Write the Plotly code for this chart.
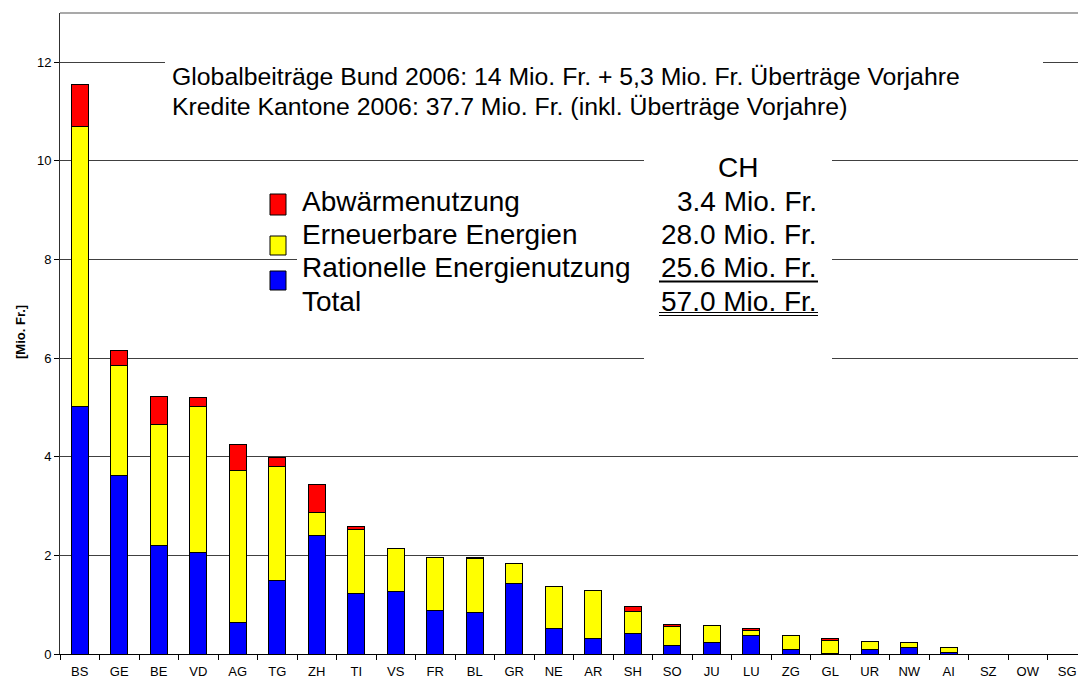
import plotly.graph_objects as go

cantons = ["BS","GE","BE","VD","AG","TG","ZH","TI","VS","FR","BL","GR","NE",
           "AR","SH","SO","JU","LU","ZG","GL","UR","NW","AI","SZ","OW","SG"]
rationelle = [5.02,3.62,2.20,2.06,0.63,1.49,2.41,1.22,1.26,0.89,0.84,1.44,0.52,
              0.32,0.41,0.17,0.23,0.37,0.09,0.02,0.10,0.13,0.04,0,0,0]
erneuerbar = [5.68,2.23,2.45,2.96,3.09,2.31,0.45,1.30,0.87,1.07,1.10,0.40,0.85,
              0.96,0.45,0.39,0.34,0.11,0.28,0.26,0.16,0.11,0.10,0,0,0]
abwaerme = [0.85,0.30,0.58,0.18,0.53,0.19,0.57,0.07,0,0,0.02,0,0,
            0,0.11,0.04,0,0.04,0,0.04,0,0,0,0,0,0]

series_names = ["Abwärmenutzung", "Erneuerbare Energien", "Rationelle Energienutzung"]
series_colors = ["#FF0000", "#FFFF00", "#0000FF"]
ch_totals = ["3.4 Mio. Fr.", "28.0 Mio. Fr.", "25.6 Mio. Fr.", "57.0 Mio. Fr."]
title_lines = ["Globalbeiträge Bund 2006: 14 Mio. Fr. + 5,3 Mio. Fr. Überträge Vorjahre",
               "Kredite Kantone 2006: 37.7 Mio. Fr. (inkl. Überträge Vorjahre)"]
y_title = "[Mio. Fr.]"

FONT = "Liberation Sans, Arial, sans-serif"
W, H = 1070, 680
OFF = 8                   # page body margin offset
ML, MR, MT, MB = 52, 0, 5, 34
PW, PH = W - ML - MR, H - MT - MB
CAT_PX = 39.5             # pixels per category


def px(x):
    return (x - OFF - ML) / PW


def py(y):
    return (H - MB - (y - OFF)) / PH


def nz(vals):
    return [v if v else None for v in vals]


fig = go.Figure()
for vals, name, col in [(rationelle, series_names[2], series_colors[2]),
                        (erneuerbar, series_names[1], series_colors[1]),
                        (abwaerme, series_names[0], series_colors[0])]:
    fig.add_trace(go.Bar(x=cantons, y=nz(vals), name=name, width=0.42,
                         marker=dict(color=col, line=dict(color="black", width=1)),
                         showlegend=False))

shapes = []
# white boxes covering gridlines behind text blocks
for x0, x1, y0, y1 in [(165, 1043, 50, 125), (297, 644, 180, 325), (644, 832, 148, 372)]:
    shapes.append(dict(type="rect", xref="paper", yref="paper",
                       x0=px(x0), x1=px(x1), y0=py(y1), y1=py(y0),
                       fillcolor="white", line=dict(width=0), layer="above"))
# top frame line
shapes.append(dict(type="line", xref="paper", yref="paper", x0=0, x1=1, y0=1, y1=1,
                   line=dict(color="#8c8c8c", width=1.5)))
# legend swatches
for (y0, y1), col in zip([(194, 215), (236, 255), (271, 290)], series_colors):
    shapes.append(dict(type="rect", xref="paper", yref="paper",
                       x0=px(270), x1=px(286), y0=py(y1), y1=py(y0),
                       fillcolor=col, line=dict(color="black", width=1), layer="above"))
# underlines
shapes.append(dict(type="line", xref="paper", yref="paper", x0=px(659), x1=px(818),
                   y0=py(281.5), y1=py(281.5), line=dict(color="black", width=2), layer="above"))
for yy in (312.5, 315.5):
    shapes.append(dict(type="line", xref="paper", yref="paper", x0=px(659), x1=px(818),
                       y0=py(yy), y1=py(yy), line=dict(color="black", width=1.2), layer="above"))

annotations = []
for i, t in enumerate(title_lines):
    annotations.append(dict(text=t, xref="paper", yref="paper", x=px(170), y=py(76 + 30 * i),
                            xanchor="left", yanchor="middle", showarrow=False,
                            font=dict(family=FONT, size=24.8, color="black")))
rows = [201, 234.5, 267.5, 301]
labels = series_names + ["Total"]
for r, lab, val in zip(rows, labels, ch_totals):
    annotations.append(dict(text=lab, xref="paper", yref="paper", x=px(300), y=py(r),
                            xanchor="left", yanchor="middle", showarrow=False,
                            font=dict(family=FONT, size=28, color="black")))
    annotations.append(dict(text=val, xref="paper", yref="paper", x=px(819), y=py(r),
                            xanchor="right", yanchor="middle", showarrow=False,
                            font=dict(family=FONT, size=28, color="black")))
annotations.append(dict(text="CH", xref="paper", yref="paper", x=px(738), y=py(167.5),
                        xanchor="center", yanchor="middle", showarrow=False,
                        font=dict(family=FONT, size=28, color="black")))
annotations.append(dict(text="<b>" + y_title + "</b>", xref="paper", yref="paper",
                        x=px(20), y=py(332), xanchor="center", yanchor="middle",
                        textangle=-90, showarrow=False,
                        font=dict(family=FONT, size=13, color="black")))

fig.update_layout(
    width=W, height=H, barmode="stack",
    margin=dict(l=ML, r=MR, t=MT, b=MB),
    paper_bgcolor="white", plot_bgcolor="white",
    shapes=shapes, annotations=annotations,
    font=dict(family=FONT, color="black"),
    xaxis=dict(range=[-0.5, -0.5 + PW / CAT_PX], tickson="boundaries",
               ticks="outside", ticklen=5, tickcolor="black",
               ticklabelstandoff=5,
               showline=True, linecolor="black", linewidth=1,
               showgrid=False, tickfont=dict(size=13, color="black")),
    yaxis=dict(range=[0, 13], dtick=2, tick0=0, ticks="outside", ticklen=5,
               tickcolor="black", showline=True, linecolor="#303030", linewidth=1,
               showgrid=True, gridcolor="#404040", gridwidth=1,
               zeroline=False, tickfont=dict(size=13, color="black")),
)

fig.write_html("out.html")
